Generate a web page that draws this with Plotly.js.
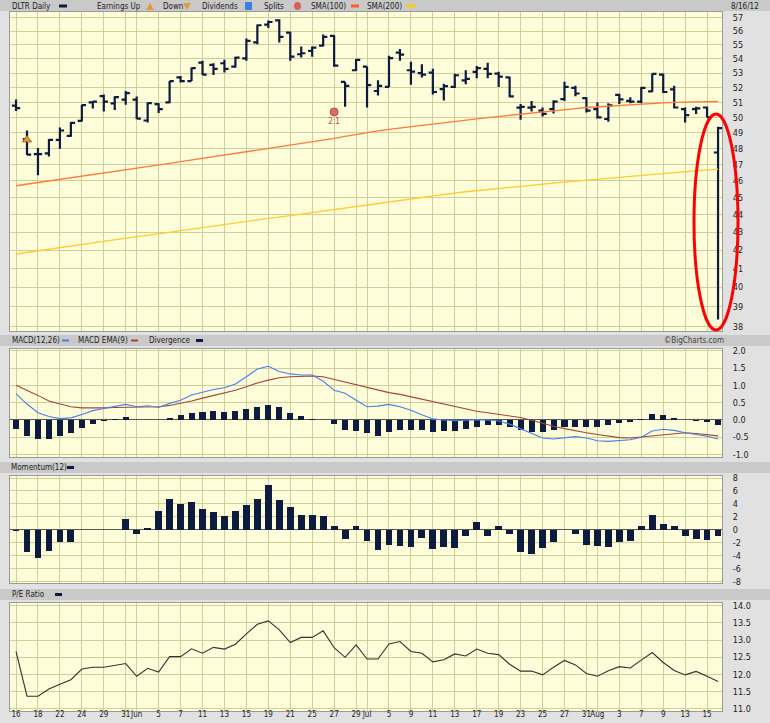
<!DOCTYPE html>
<html>
<head>
<meta charset="utf-8">
<script src="https://cdn.plot.ly/plotly-3.0.1.min.js"></script>
<style>
html,body{margin:0;padding:0;background:#e1e1e1;}
#chart{width:770px;height:723px;}
</style>
</head>
<body>
<div id="chart"></div>
<script>
// ---- data ----
const dates = [
 '2012-05-16','2012-05-17','2012-05-18','2012-05-21','2012-05-22','2012-05-23','2012-05-24','2012-05-25','2012-05-29','2012-05-30','2012-05-31',
 '2012-06-01','2012-06-04','2012-06-05','2012-06-06','2012-06-07','2012-06-08','2012-06-11','2012-06-12','2012-06-13','2012-06-14','2012-06-15',
 '2012-06-18','2012-06-19','2012-06-20','2012-06-21','2012-06-22','2012-06-25','2012-06-26','2012-06-27','2012-06-28','2012-06-29',
 '2012-07-02','2012-07-03','2012-07-05','2012-07-06','2012-07-09','2012-07-10','2012-07-11','2012-07-12','2012-07-13','2012-07-16',
 '2012-07-17','2012-07-18','2012-07-19','2012-07-20','2012-07-23','2012-07-24','2012-07-25','2012-07-26','2012-07-27','2012-07-30','2012-07-31',
 '2012-08-01','2012-08-02','2012-08-03','2012-08-06','2012-08-07','2012-08-08','2012-08-09','2012-08-10','2012-08-13','2012-08-14','2012-08-15','2012-08-16'
];
const openP  = [50.78,48.6,47.65,47.7,48.55,48.8,49.78,51.0,51.42,50.93,51.19,51.19,49.8,50.88,51.0,52.7,52.45,53.73,53.57,53.69,53.45,54.04,55.19,56.49,56.8,55.9,54.33,54.57,54.95,55.66,52.4,53.2,53.45,51.77,52.05,54.45,53.2,53.0,53.04,51.9,52.05,52.5,53.09,53.3,52.97,52.7,50.65,50.65,50.45,50.55,51.22,51.98,51.28,50.55,49.9,51.5,51.1,51.05,51.75,52.9,51.88,50.55,50.55,50.66,47.75];
const highP  = [51.19,49.15,48.04,48.6,49.35,49.7,50.85,51.1,51.53,51.42,51.77,51.4,51.0,50.95,52.45,52.8,53.4,53.86,53.69,53.93,54.16,55.47,56.49,56.8,56.88,55.95,54.88,54.88,55.75,55.7,52.4,54.0,53.47,52.51,54.23,54.7,53.8,53.62,53.3,52.27,52.95,53.2,53.5,53.73,53.09,52.75,50.9,51.1,50.66,51.15,52.4,52.12,51.35,51.0,50.95,51.58,51.35,52.05,52.97,52.97,52.12,50.66,50.71,50.71,49.4];
const lowP   = [50.42,47.6,46.35,47.5,47.98,48.75,49.73,50.6,50.4,50.5,50.85,49.9,49.67,50.29,50.95,52.35,52.45,52.86,52.86,53.04,53.38,53.86,55.04,56.24,55.17,53.86,54.09,54.16,54.88,53.45,50.71,53.14,50.66,51.46,52.05,53.86,52.2,52.7,51.53,51.12,51.98,52.23,52.64,52.64,52.05,51.35,49.85,50.4,50.06,50.26,51.1,51.42,50.33,49.93,49.72,50.89,50.95,50.95,51.7,51.63,50.6,49.67,50.22,50.0,38.35];
const closeP = [50.62,47.62,47.65,48.55,49.15,49.65,50.82,51.05,51.05,51.35,51.63,49.93,50.95,50.55,52.45,52.45,53.35,52.9,53.29,53.29,54.09,55.29,56.44,56.68,55.59,54.16,54.4,54.81,55.59,53.52,52.12,53.93,52.17,52.12,54.05,54.3,53.1,52.9,51.7,52.1,52.85,52.6,53.35,52.95,52.75,51.4,50.7,50.7,50.24,51.05,52.05,51.6,50.45,50.0,50.8,51.2,51.05,51.98,52.95,51.7,50.66,50.15,50.6,50.0,49.3];
const sma100 = [45.71,45.81,45.91,46.00,46.10,46.19,46.29,46.38,46.48,46.58,46.68,46.78,46.88,46.98,47.08,47.18,47.28,47.38,47.48,47.59,47.69,47.79,47.89,48.00,48.10,48.20,48.30,48.41,48.51,48.64,48.77,48.90,49.03,49.12,49.22,49.31,49.41,49.49,49.58,49.66,49.75,49.83,49.91,49.99,50.07,50.15,50.23,50.31,50.39,50.46,50.52,50.59,50.66,50.71,50.76,50.81,50.86,50.90,50.93,50.97,51.00,51.02,51.04,51.05,51.07];
const sma200 = [41.79,41.88,41.96,42.05,42.14,42.22,42.31,42.40,42.48,42.57,42.66,42.75,42.83,42.92,43.01,43.09,43.18,43.27,43.35,43.44,43.53,43.61,43.70,43.79,43.87,43.96,44.05,44.13,44.22,44.30,44.39,44.47,44.56,44.65,44.74,44.83,44.92,45.01,45.10,45.19,45.28,45.35,45.41,45.48,45.54,45.61,45.68,45.74,45.81,45.87,45.93,45.99,46.06,46.12,46.18,46.24,46.30,46.35,46.40,46.46,46.51,46.56,46.61,46.67,46.72];
const macd = [0.76,0.46,0.21,0.10,0.04,0.06,0.16,0.27,0.33,0.40,0.45,0.38,0.41,0.36,0.48,0.57,0.72,0.80,0.88,0.93,1.04,1.25,1.47,1.55,1.40,1.33,1.30,1.30,1.12,0.86,0.77,0.57,0.38,0.40,0.45,0.38,0.28,0.15,0.03,0.0,-0.02,-0.01,0.01,0.0,-0.03,-0.12,-0.25,-0.37,-0.52,-0.55,-0.52,-0.48,-0.52,-0.60,-0.62,-0.60,-0.57,-0.50,-0.32,-0.27,-0.30,-0.37,-0.42,-0.47,-0.55];
const macdEma = [1.0,0.86,0.71,0.55,0.46,0.38,0.35,0.34,0.35,0.36,0.37,0.37,0.37,0.38,0.42,0.48,0.55,0.63,0.71,0.77,0.86,0.96,1.07,1.15,1.22,1.25,1.26,1.27,1.25,1.17,1.10,1.02,0.94,0.86,0.79,0.74,0.67,0.60,0.52,0.46,0.38,0.31,0.25,0.21,0.17,0.13,0.07,-0.01,-0.10,-0.18,-0.25,-0.32,-0.37,-0.42,-0.47,-0.51,-0.52,-0.49,-0.44,-0.41,-0.39,-0.37,-0.39,-0.42,-0.46];
const divergence = [-0.26,-0.45,-0.55,-0.56,-0.47,-0.39,-0.22,-0.12,-0.03,0.03,0.08,0,0,0,0.07,0.14,0.21,0.22,0.25,0.24,0.25,0.31,0.38,0.44,0.38,0.21,0.12,0.04,0,-0.13,-0.30,-0.31,-0.39,-0.47,-0.34,-0.28,-0.28,-0.30,-0.34,-0.32,-0.32,-0.27,-0.20,-0.15,-0.15,-0.20,-0.30,-0.34,-0.34,-0.30,-0.20,-0.20,-0.20,-0.20,-0.14,-0.10,-0.06,0.04,0.17,0.13,0.07,0,-0.03,-0.06,-0.14];
const momentum = [-0.2,-3.46,-4.34,-3.3,-1.9,-1.86,0,0,0,0,1.7,-0.57,0.31,2.94,4.8,3.97,4.34,3.15,2.68,2.12,2.84,3.87,4.75,6.86,4.54,3.51,2.37,2.37,2.12,0.52,-1.34,0.52,-1.75,-3.15,-2.27,-2.53,-2.63,-1.29,-2.94,-2.68,-2.74,-0.98,1.14,-0.88,0.52,-0.67,-3.41,-3.66,-2.84,-1.81,0,-0.57,-2.37,-2.53,-2.63,-1.81,-1.65,0.52,2.22,0.98,0.52,-0.93,-1.34,-1.5,-0.98];
const peRatio = [12.67,11.37,11.37,11.58,11.72,11.85,12.16,12.21,12.21,12.26,12.32,11.95,12.18,12.07,12.52,12.52,12.75,12.62,12.79,12.74,12.88,13.18,13.46,13.56,13.30,12.93,13.08,13.08,13.27,12.78,12.50,12.86,12.45,12.45,12.89,12.96,12.67,12.62,12.37,12.43,12.60,12.54,12.74,12.62,12.58,12.30,12.10,12.10,11.99,12.21,12.41,12.28,12.03,11.95,12.11,12.23,12.19,12.42,12.64,12.35,12.12,11.99,12.09,11.95,11.80];
const tickDates = ['2012-05-16','2012-05-18','2012-05-22','2012-05-24','2012-05-29','2012-05-31','2012-06-01','2012-06-05','2012-06-07','2012-06-11','2012-06-13','2012-06-15','2012-06-19','2012-06-21','2012-06-25','2012-06-27','2012-06-29','2012-07-02','2012-07-05','2012-07-09','2012-07-11','2012-07-13','2012-07-17','2012-07-19','2012-07-23','2012-07-25','2012-07-27','2012-07-31','2012-08-01','2012-08-03','2012-08-07','2012-08-09','2012-08-13','2012-08-15'];
const tickLabels = ['16','18','22','24','29','31','Jun','5','7','11','13','15','19','21','25','27','29','Jul','5','9','11','13','17','19','23','25','27','31','Aug','3','7','9','13','15'];
const priceTicks = [38,39,40,41,42,43,44,45,46,47,48,49,50,51,52,53,54,55,56,57];
const macdTicks = [-1.0,-0.5,0.0,0.5,1.0,1.5,2.0];
const momTicks = [-8,-6,-4,-2,0,2,4,6,8];
const peTicks = [11.0,11.5,12.0,12.5,13.0,13.5,14.0];
const earningsUp = {date:'2012-05-17', level:48.55};
const splitEvent = {date:'2012-06-27', level:50.36, label:'2:1'};

// ---- style ----
const NAVY = '#0d1b3e';
const GRID = '#cfcf9c';
const PLOTBG = '#fdfdd9';
const FONT = 'DejaVu Sans Condensed, DejaVu Sans, sans-serif';
const L = 10, R = 48, T = 12, B = 12, W = 770, H = 723;
const PW = W - L - R, PH = H - T - B;
const px = v => (v - L) / PW;
const py = v => (H - B - v) / PH;

const traces = [
 {type:'ohlc', x:dates, open:openP, high:highP, low:lowP, close:closeP, xaxis:'x', yaxis:'y',
  increasing:{line:{color:NAVY, width:2.2}}, decreasing:{line:{color:NAVY, width:2.2}}, tickwidth:0.38, hoverinfo:'skip'},
 {type:'scatter', mode:'lines', x:dates, y:sma100, xaxis:'x', yaxis:'y', line:{color:'#ff7a3c', width:1.3}},
 {type:'scatter', mode:'lines', x:dates, y:sma200, xaxis:'x', yaxis:'y', line:{color:'#ffcc33', width:1.3}},
 {type:'scatter', mode:'markers', x:[earningsUp.date], y:[earningsUp.level], xaxis:'x', yaxis:'y',
  marker:{symbol:'triangle-up', size:8, color:'#e49a3a', line:{color:'#a8641c', width:1}}},
 {type:'scatter', mode:'markers+text', x:[splitEvent.date], y:[splitEvent.level], xaxis:'x', yaxis:'y',
  marker:{symbol:'circle', size:8, color:'#de6a64', line:{color:'#b84a46', width:1}},
  text:[splitEvent.label], textposition:'bottom center', textfont:{family:FONT, size:8, color:'#b04a44'}},
 {type:'bar', x:dates, y:divergence, xaxis:'x', yaxis:'y2', width:0.55, marker:{color:NAVY, line:{width:0}}},
 {type:'scatter', mode:'lines', x:dates, y:macdEma, xaxis:'x', yaxis:'y2', line:{color:'#a0473a', width:1.1}},
 {type:'scatter', mode:'lines', x:dates, y:macd, xaxis:'x', yaxis:'y2', line:{color:'#4a7fe8', width:1.1}},
 {type:'bar', x:dates, y:momentum, xaxis:'x', yaxis:'y3', width:0.62, marker:{color:NAVY, line:{width:0}}},
 {type:'scatter', mode:'lines', x:dates, y:peRatio, xaxis:'x', yaxis:'y4', line:{color:'#333333', width:1.1}}
];

const yCommon = {side:'right', anchor:'x', showgrid:true, gridcolor:GRID, gridwidth:1, showline:true, linecolor:'#9a9a9a',
 linewidth:1, mirror:true, ticks:'', ticklabelstandoff:8, tickfont:{family:FONT, size:9, color:'#222'}, fixedrange:true, automargin:false};

const layout = {
 width:W, height:H, margin:{l:L, r:R, t:T, b:B, pad:0},
 paper_bgcolor:'#e1e1e1', plot_bgcolor:PLOTBG, showlegend:false, bargap:0,
 font:{family:FONT, size:9, color:'#222'},
 xaxis:{type:'category', anchor:'y4', range:[-0.55, 64.36], tickmode:'array', tickvals:tickDates, ticktext:tickLabels,
  showgrid:true, gridcolor:GRID, gridwidth:1, ticks:'', showline:true, linecolor:'#9a9a9a', mirror:'all', ticklabelstandoff:-5,
  tickangle:0, tickfont:{family:FONT, size:8, color:'#222'}, rangeslider:{visible:false}, automargin:false, fixedrange:true, zeroline:false},
 yaxis:Object.assign({}, yCommon, {domain:[py(331), py(12)], type:'log', range:[Math.log10(37.77), Math.log10(57.43)],
  tickmode:'array', tickvals:priceTicks, ticktext:priceTicks.map(String), zeroline:false}),
 yaxis2:Object.assign({}, yCommon, {domain:[py(457), py(349)], range:[-1.07, 2.05], tickmode:'array', tickvals:macdTicks,
  ticktext:macdTicks.map(v=>v.toFixed(1)), zeroline:true, zerolinecolor:'#555', zerolinewidth:1}),
 yaxis3:Object.assign({}, yCommon, {domain:[py(583), py(476)], range:[-8.2, 8.31], tickmode:'array', tickvals:momTicks,
  ticktext:momTicks.map(String), zeroline:true, zerolinecolor:'#555', zerolinewidth:1}),
 yaxis4:Object.assign({}, yCommon, {domain:[py(711), py(603)], range:[10.94, 14.08], tickmode:'array', tickvals:peTicks,
  ticktext:peTicks.map(v=>v.toFixed(1)), zeroline:false}),
 shapes:[], annotations:[]
};

// header bands
[[0,11],[335,346],[462,473],[589,600]].forEach(b=>{
 layout.shapes.push({type:'rect', xref:'paper', yref:'paper', x0:px(0), x1:px(770), y0:py(b[1]), y1:py(b[0]),
  fillcolor:'#c9c9c9', line:{width:0}, layer:'below'});
});
function label(text, x, y, color, size){
 layout.annotations.push({text:text, xref:'paper', yref:'paper', x:px(x), y:py(y), xanchor:'left', yanchor:'middle',
  showarrow:false, font:{family:FONT, size:size||8, color:color||'#222'}});
}
function swatch(x, y, color, w, h){
 layout.shapes.push({type:'rect', xref:'paper', yref:'paper', x0:px(x), x1:px(x+(w||7)), y0:py(y+(h||2)/2), y1:py(y-(h||2)/2),
  fillcolor:color, line:{width:0}});
}
// top header
label('DLTR Daily', 10, 6); swatch(59, 6, NAVY, 8, 3);
label('Earnings Up', 95, 6);
layout.shapes.push({type:'path', xref:'paper', yref:'paper', path:`M ${px(146)} ${py(10)} L ${px(154)} ${py(10)} L ${px(150)} ${py(3)} Z`, fillcolor:'#e49a3a', line:{width:0}});
label('Down', 161, 6);
layout.shapes.push({type:'path', xref:'paper', yref:'paper', path:`M ${px(183)} ${py(3)} L ${px(191)} ${py(3)} L ${px(187)} ${py(10)} Z`, fillcolor:'#e49a3a', line:{width:0}});
label('Dividends', 200, 6);
layout.shapes.push({type:'rect', xref:'paper', yref:'paper', x0:px(245), x1:px(252), y0:py(10), y1:py(2), fillcolor:'#3d7ee0', line:{width:0}});
label('Splits', 262, 6);
layout.shapes.push({type:'circle', xref:'paper', yref:'paper', x0:px(294), x1:px(301), y0:py(10), y1:py(2), fillcolor:'#d9605a', line:{width:0}});
label('SMA(100)', 309, 6); swatch(351, 6, '#ff5a2a', 8, 3);
label('SMA(200)', 365, 6); swatch(407, 6, '#ffcc00', 8, 3);
label('8/16/12', 729, 6);
// MACD header
label('MACD(12,26)', 10, 340.5); swatch(62, 340.5, '#4a7fe8', 7, 2);
label('MACD EMA(9)', 76, 340.5); swatch(131, 340.5, '#a0473a', 7, 2);
label('Divergence', 147, 340.5); swatch(196, 340.5, NAVY, 7, 3);
label('©BigCharts.com', 662, 340.5, '#444');
// Momentum header
label('Momentum(12)', 9, 467.5); swatch(67, 467.5, NAVY, 7, 3);
// PE header
label('P/E Ratio', 10, 594.5); swatch(55, 594.5, NAVY, 7, 3);

// red ellipse highlight
layout.shapes.push({type:'circle', xref:'paper', yref:'paper', x0:px(694), x1:px(738), y0:py(330), y1:py(114),
 line:{color:'#ff0000', width:3}, fillcolor:'rgba(0,0,0,0)', layer:'above'});

Plotly.newPlot('chart', traces, layout, {staticPlot:true, displayModeBar:false});
</script>
</body>
</html>
